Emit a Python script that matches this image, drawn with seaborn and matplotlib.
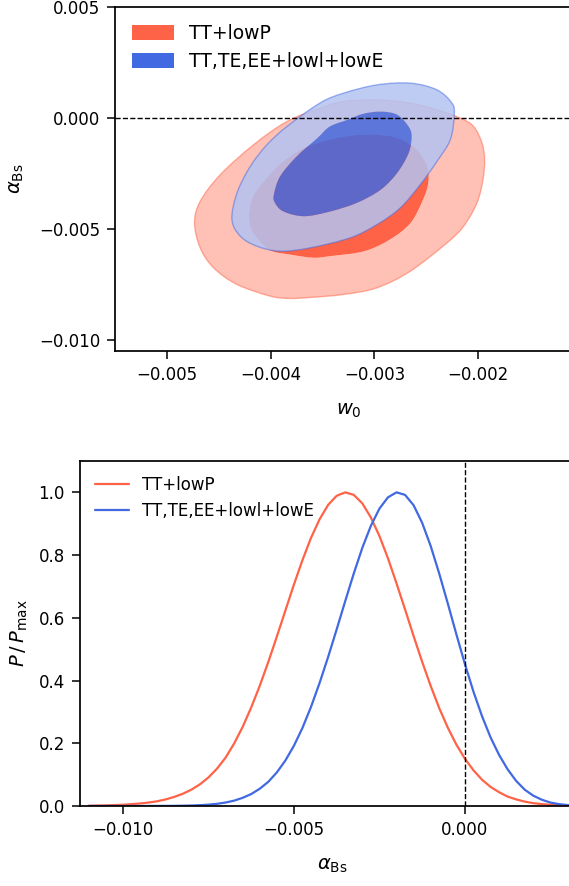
import numpy as np
import pandas as pd
import matplotlib
matplotlib.use("Agg")
import matplotlib.pyplot as plt
from matplotlib.path import Path
from matplotlib.patches import PathPatch, Patch
from matplotlib.ticker import FuncFormatter
import seaborn as sns

labels = ["TT+lowP", "TT,TE,EE+lowl+lowE"]
colors = ["#ff6347", "#4169e1"]          # tomato, royalblue
pale_colors = ["#ffc1b5", "#b3c3f3"]     # lighter versions for the 95% regions

# ---- 2D posterior contours in the (w0, alpha_Bs) plane ----
red95_w0 = [-0.004736, -0.004681, -0.004487, -0.004166, -0.003844, -0.003522, -0.003297,
            -0.002975, -0.002653, -0.002396, -0.002171, -0.002042, -0.001961, -0.001936,
            -0.001952, -0.002010, -0.002139, -0.002299, -0.002653, -0.002975, -0.003297,
            -0.003619, -0.003812, -0.004005, -0.004326, -0.004552, -0.004681]
red95_ab = [-0.004730, -0.003760, -0.002561, -0.001213, -0.000166, 0.000436, 0.000732,
            0.000809, 0.000660, 0.000359, -0.000013, -0.000391, -0.001137, -0.001887,
            -0.002785, -0.003832, -0.004883, -0.005629, -0.006905, -0.007651, -0.007952,
            -0.008086, -0.008131, -0.008028, -0.007502, -0.006752, -0.005854]
red68_w0 = [-0.00421, -0.00417, -0.00404, -0.00388, -0.00368, -0.00343, -0.00323, -0.00301,
            -0.00278, -0.00259, -0.00249, -0.00248, -0.00253, -0.00265, -0.00285, -0.00310,
            -0.00343, -0.00359, -0.00381, -0.00401, -0.00417]
red68_ab = [-0.00443, -0.00354, -0.00271, -0.00196, -0.00136, -0.00099, -0.00081, -0.00076,
            -0.00091, -0.00144, -0.00219, -0.00293, -0.00368, -0.00473, -0.00548, -0.00601,
            -0.00623, -0.00630, -0.00616, -0.00595, -0.00518]
blue95_w0 = [-0.004375, -0.004326, -0.004198, -0.004037, -0.003844, -0.003522, -0.003297,
             -0.002975, -0.002653, -0.002396, -0.002251, -0.002229, -0.002267, -0.002396,
             -0.002557, -0.002750, -0.002975, -0.003233, -0.003619, -0.003908, -0.004133,
             -0.004294]
blue95_ab = [-0.004582, -0.003383, -0.002188, -0.001213, -0.000391, 0.000674, 0.001110,
             0.001482, 0.001559, 0.001258, 0.000660, 0.000135, -0.000988, -0.001963,
             -0.003010, -0.004057, -0.004807, -0.005404, -0.005854, -0.006006, -0.005782,
             -0.005332]
blue68_w0 = [-0.00397, -0.00391, -0.00375, -0.00355, -0.00343, -0.00326, -0.00311, -0.00294,
             -0.00278, -0.00267, -0.00264, -0.00267, -0.00278, -0.00294, -0.00317, -0.00343,
             -0.00368, -0.00388, -0.00396]
blue68_ab = [-0.00346, -0.00264, -0.00174, -0.00091, -0.00039, -0.00009, 0.00018, 0.00028,
             0.00014, -0.00039, -0.00084, -0.00159, -0.00248, -0.00324, -0.00383, -0.00422,
             -0.00443, -0.00421, -0.00382]

# ---- 1D marginal of alpha_Bs (in units of 1e-3) ----
ab_grid = np.array([-11.0, -10.75, -10.5, -10.25, -10.0, -9.75, -9.5, -9.25, -9.0, -8.75,
                    -8.5, -8.25, -8.0, -7.75, -7.5, -7.25, -7.0, -6.75, -6.5, -6.25,
                    -6.0, -5.75, -5.5, -5.25, -5.0, -4.75, -4.5, -4.25, -4.0, -3.75,
                    -3.5, -3.25, -3.0, -2.75, -2.5, -2.25, -2.0, -1.75, -1.5, -1.25,
                    -1.0, -0.75, -0.5, -0.25, 0.0, 0.25, 0.5, 0.75, 1.0, 1.25,
                    1.5, 1.75, 2.0, 2.25, 2.5, 2.75, 3.0, 3.25, 3.5]) * 1e-3
red_p = [0.001, 0.0015, 0.002, 0.003, 0.004, 0.006, 0.008, 0.011, 0.015, 0.021,
         0.029, 0.039, 0.052, 0.069, 0.091, 0.119, 0.154, 0.199, 0.252, 0.314,
         0.383, 0.459, 0.540, 0.623, 0.706, 0.784, 0.855, 0.914, 0.960, 0.989,
         1.000, 0.992, 0.965, 0.920, 0.861, 0.790, 0.710, 0.627, 0.542, 0.460,
         0.383, 0.312, 0.250, 0.196, 0.151, 0.114, 0.084, 0.061, 0.044, 0.030,
         0.021, 0.014, 0.009, 0.006, 0.004, 0.002, 0.001, 0.001, 0.000]
blue_p = [0.0, 0.0, 0.0, 0.0, 0.0, 0.0, 0.0, 0.0001, 0.0002, 0.0003,
          0.0005, 0.0009, 0.0015, 0.0026, 0.0043, 0.0069, 0.011, 0.017, 0.026, 0.038,
          0.055, 0.077, 0.107, 0.145, 0.192, 0.249, 0.316, 0.392, 0.475, 0.563,
          0.653, 0.741, 0.823, 0.893, 0.948, 0.984, 1.000, 0.992, 0.959, 0.903,
          0.829, 0.741, 0.646, 0.548, 0.453, 0.365, 0.287, 0.219, 0.163, 0.117,
          0.080, 0.052, 0.033, 0.020, 0.011, 0.006, 0.003, 0.001, 0.000]

sns.set_style("ticks", {"axes.edgecolor": "black", "xtick.color": "black",
                        "ytick.color": "black", "text.color": "black",
                        "axes.labelcolor": "black"})
plt.rcParams["font.family"] = ["DejaVu Sans"]
plt.rcParams["mathtext.fontset"] = "dejavusans"
plt.rcParams["axes.linewidth"] = 1.25
plt.rcParams["xtick.major.size"] = 6
plt.rcParams["ytick.major.size"] = 6
plt.rcParams["xtick.major.width"] = 1.1
plt.rcParams["ytick.major.width"] = 1.1
plt.rcParams["xtick.major.pad"] = 5
plt.rcParams["ytick.major.pad"] = 5


def closed_curve(xs, ys, clockwise):
    # smooth closed curve through the read-off boundary points
    pts = np.column_stack([xs, ys])
    area = 0.5 * np.sum(pts[:, 0] * np.roll(pts[:, 1], -1) - np.roll(pts[:, 0], -1) * pts[:, 1])
    if (area < 0) != clockwise:
        pts = pts[::-1]
    n = len(pts)
    verts = [pts[0]]
    codes = [Path.MOVETO]
    for i in range(n):
        p0, p1, p2, p3 = pts[i - 1], pts[i], pts[(i + 1) % n], pts[(i + 2) % n]
        verts += [p1 + (p2 - p0) / 6, p2 - (p3 - p1) / 6, p2]
        codes += [Path.CURVE4] * 3
    verts.append(pts[0])
    codes.append(Path.CLOSEPOLY)
    return verts, codes


def add_contours(ax, outer, inner, col, pale, alpha):
    vo, co = closed_curve(outer[0], outer[1], clockwise=False)
    vi, ci = closed_curve(inner[0], inner[1], clockwise=True)
    ax.add_patch(PathPatch(Path(vo + vi, co + ci), facecolor=pale, edgecolor="none", alpha=alpha))
    vi2, ci2 = closed_curve(inner[0], inner[1], clockwise=False)
    ax.add_patch(PathPatch(Path(vi2, ci2), facecolor=col, edgecolor="none", alpha=alpha))
    ax.add_patch(PathPatch(Path(vo, co), fill=False, edgecolor=col, alpha=0.5, lw=1.0))


minus = lambda fmt: FuncFormatter(lambda v, p: (fmt % v).replace("-", "\u2212"))

fig = plt.figure(figsize=(5.69, 8.86), dpi=100)

# ---- top panel: 2D contours ----
ax1 = fig.add_axes([0.2028, 0.6038, 0.8193, 0.3886])
add_contours(ax1, (red95_w0, red95_ab), (red68_w0, red68_ab), colors[0], pale_colors[0], 1.0)
add_contours(ax1, (blue95_w0, blue95_ab), (blue68_w0, blue68_ab), colors[1], pale_colors[1], 0.85)
ax1.axhline(0, color="black", ls="--", lw=1)
ax1.set_xlim(-0.0055, -0.001)
ax1.set_ylim(-0.0105, 0.005)
ax1.set_xticks([-0.005, -0.004, -0.003, -0.002])
ax1.set_yticks([-0.010, -0.005, 0.000, 0.005])
ax1.xaxis.set_major_formatter(minus("%.3f"))
ax1.yaxis.set_major_formatter(minus("%.3f"))
ax1.tick_params(labelsize=12)
ax1.set_xlabel(r"$w_0$", fontsize=14, labelpad=12)
ax1.set_ylabel(r"$\alpha_{\rm Bs}$", fontsize=14, labelpad=9)
handles = [Patch(facecolor=c, edgecolor="none") for c in colors]
ax1.legend(handles, labels, loc="upper left", frameon=False, fontsize=13.5,
           handlelength=2.2, handleheight=0.85)

# ---- bottom panel: 1D marginals ----
ax2 = fig.add_axes([0.1410, 0.0903, 0.8863, 0.3894])
df = pd.DataFrame({
    "alpha": np.concatenate([ab_grid, ab_grid]),
    "P": np.concatenate([red_p, blue_p]),
    "data": [labels[0]] * len(ab_grid) + [labels[1]] * len(ab_grid),
})
sns.lineplot(data=df, x="alpha", y="P", hue="data", palette=colors, linewidth=1.6,
             errorbar=None, ax=ax2)
ax2.axvline(0, color="black", ls="--", lw=1)
ax2.set_xlim(-0.01125, 0.0035)
ax2.set_ylim(0, 1.1)
ax2.set_xticks([-0.010, -0.005, 0.000])
ax2.set_yticks([0.0, 0.2, 0.4, 0.6, 0.8, 1.0])
ax2.xaxis.set_major_formatter(minus("%.3f"))
ax2.yaxis.set_major_formatter(minus("%.1f"))
ax2.tick_params(labelsize=12)
ax2.set_xlabel(r"$\alpha_{\rm Bs}$", fontsize=14, labelpad=12)
ax2.set_ylabel(r"$P\,/\,P_{\rm max}$", fontsize=14, labelpad=6)
h, l = ax2.get_legend_handles_labels()
ax2.legend(h, l, loc="upper left", frameon=False, fontsize=12, handlelength=2.0)

fig.savefig("out.png", dpi=100)
